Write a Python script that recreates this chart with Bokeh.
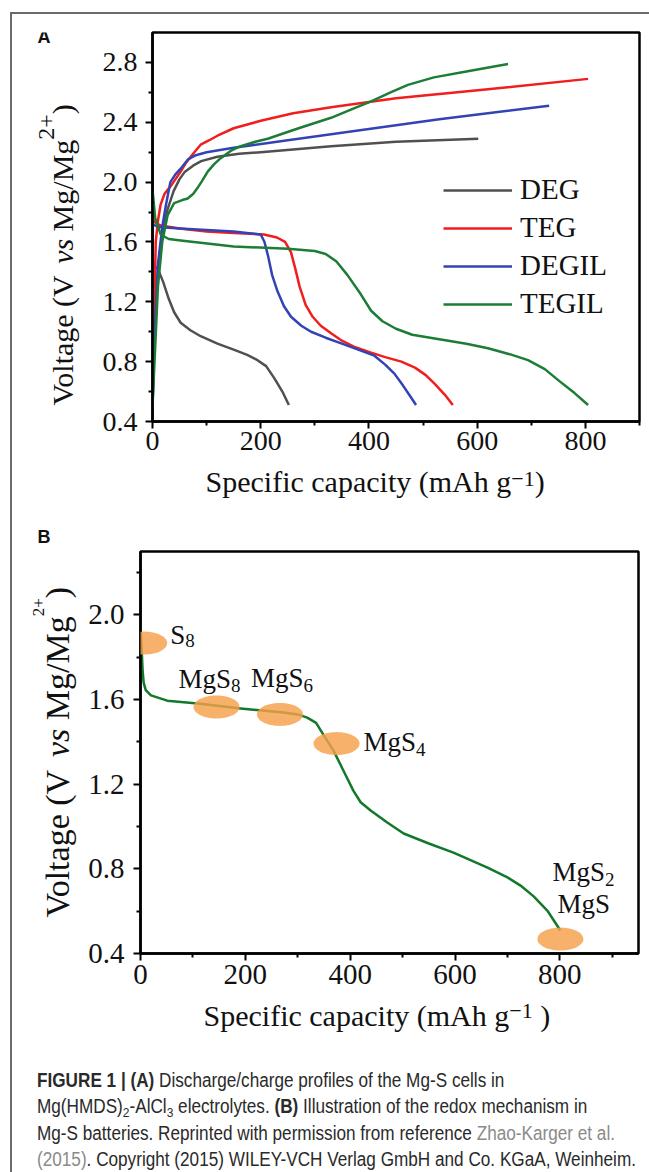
import math
from bokeh.plotting import figure
from bokeh.models import (Range1d, FixedTicker, NumeralTickFormatter, Label, Legend,
                          LegendItem, Div, PolyAnnotation)
from bokeh.layouts import column, row
from bokeh.embed import file_html
from bokeh.resources import INLINE

# ---------------- Panel A data (specific capacity mAh/g, voltage V) ----------------
deg_charge_cap = [0, 4, 10, 18, 28, 39, 50, 60, 75, 90, 120, 160, 200, 330, 450, 602]
deg_charge_v = [0.50, 1.00, 1.40, 1.65, 1.82, 1.94, 2.02, 2.07, 2.11, 2.14, 2.17, 2.19, 2.20, 2.24, 2.27, 2.29]
deg_dis_cap = [0, 10, 20, 30, 40, 52, 70, 89, 120, 150, 175, 194, 210, 225, 240, 252]
deg_dis_v = [1.45, 1.42, 1.33, 1.22, 1.13, 1.06, 1.01, 0.97, 0.92, 0.88, 0.845, 0.81, 0.77, 0.69, 0.60, 0.51]

teg_charge_cap = [0, 3, 6, 10, 15, 22, 35, 52, 62, 75, 89, 105, 120, 150, 200, 260, 330, 450, 620, 805]
teg_charge_v = [0.50, 1.10, 1.60, 1.74, 1.85, 1.92, 1.98, 2.07, 2.13, 2.19, 2.25, 2.28, 2.31, 2.36, 2.41, 2.46, 2.50, 2.56, 2.62, 2.69]
teg_dis_cap = [0, 5, 15, 50, 100, 150, 206, 230, 245, 256, 264, 272, 283, 296, 311, 330, 350, 372, 404, 430, 460, 485, 505, 522, 540, 555]
teg_dis_v = [1.76, 1.73, 1.71, 1.69, 1.67, 1.66, 1.65, 1.63, 1.60, 1.53, 1.42, 1.30, 1.18, 1.10, 1.04, 0.99, 0.94, 0.90, 0.86, 0.83, 0.80, 0.76, 0.71, 0.65, 0.58, 0.51]

degil_charge_cap = [0, 4, 10, 18, 25, 33, 42, 52, 65, 80, 100, 150, 250, 330, 530, 733]
degil_charge_v = [0.50, 1.00, 1.45, 1.70, 1.85, 2.00, 2.05, 2.09, 2.15, 2.18, 2.20, 2.23, 2.28, 2.32, 2.42, 2.51]
degil_dis_cap = [0, 10, 50, 100, 150, 200, 207, 214, 221, 231, 243, 256, 275, 293, 320, 350, 380, 410, 430, 447, 463, 476, 487]
degil_dis_v = [1.72, 1.70, 1.69, 1.68, 1.67, 1.65, 1.60, 1.50, 1.38, 1.27, 1.17, 1.10, 1.04, 1.00, 0.96, 0.92, 0.88, 0.84, 0.78, 0.72, 0.64, 0.57, 0.51]

tegil_charge_cap = [0, 5, 10, 18, 28, 40, 55, 65, 75, 83, 92, 102, 114, 126, 145, 163, 190, 213, 270, 330, 370, 404, 440, 472, 520, 580, 657]
tegil_charge_v = [0.50, 0.90, 1.30, 1.60, 1.78, 1.86, 1.88, 1.89, 1.92, 1.96, 2.01, 2.07, 2.12, 2.16, 2.21, 2.24, 2.27, 2.29, 2.36, 2.43, 2.49, 2.54, 2.60, 2.65, 2.70, 2.74, 2.79]
tegil_dis_cap = [0, 5, 15, 30, 52, 150, 250, 300, 320, 340, 360, 385, 404, 425, 450, 480, 530, 580, 620, 660, 694, 725, 752, 780, 805]
tegil_dis_v = [1.95, 1.76, 1.65, 1.62, 1.61, 1.57, 1.555, 1.54, 1.52, 1.47, 1.38, 1.25, 1.14, 1.07, 1.02, 0.98, 0.95, 0.92, 0.89, 0.85, 0.81, 0.75, 0.67, 0.59, 0.51]

series_names = ["DEG", "TEG", "DEGIL", "TEGIL"]
series_colors = ["#505050", "#f01e1e", "#3343b5", "#1c7d36"]

# ---------------- Panel B data ----------------
b_cap = [0, 2, 4, 6, 10, 20, 51, 114, 191, 273, 300, 318, 335, 350, 368, 387, 406, 420, 439, 470, 502, 550, 597, 662, 700, 725, 750, 776, 801]
b_v = [1.94, 1.85, 1.74, 1.68, 1.645, 1.62, 1.595, 1.58, 1.558, 1.539, 1.53, 1.515, 1.49, 1.43, 1.36, 1.265, 1.17, 1.115, 1.076, 1.02, 0.967, 0.92, 0.877, 0.806, 0.76, 0.721, 0.67, 0.603, 0.509]
stage_names = ["S8", "MgS8", "MgS6", "MgS4", "MgS2/MgS"]
stage_cap = [7, 145, 266, 374, 801]
stage_v = [1.867, 1.565, 1.53, 1.392, 0.468]

x_major = [0, 200, 400, 600, 800]
x_minor = [100, 300, 500, 700, 900]
ya_major = [0.4, 0.8, 1.2, 1.6, 2.0, 2.4, 2.8]
ya_minor = [0.6, 1.0, 1.4, 1.8, 2.2, 2.6]
yb_major = [0.4, 0.8, 1.2, 1.6, 2.0]
yb_minor = [0.6, 1.0, 1.4, 1.8, 2.2]

SERIF = "Liberation Serif"
BASE_FIX = 0.3375   # Bokeh draws "alphabetic" labels this many em below the anchor

# ---- Times / Liberation Serif advance widths (1/1000 em) for composing rich labels ----
W_REG = {' ': 250, '(': 333, ')': 333, '/': 278, '.': 250, '+': 564, '\u2212': 564, '-': 333,
         'A': 722, 'D': 722, 'E': 611, 'G': 722, 'I': 333, 'L': 611, 'M': 889, 'S': 556,
         'T': 611, 'V': 722, 'a': 444, 'c': 444, 'e': 444, 'f': 333, 'g': 500, 'h': 500,
         'i': 278, 'l': 278, 'm': 778, 'o': 500, 'p': 500, 's': 389, 't': 278, 'v': 500, 'y': 500}
for d in "0123456789":
    W_REG[d] = 500
W_ITA = {'v': 444, 's': 389}


def text_w(s, size, style="normal"):
    tab = W_ITA if style == "italic" else {}
    return sum(tab.get(c, W_REG.get(c, 500)) for c in s) * size / 1000.0


def ident(px, py):
    return px, py


def rich(p, to_data, x0, y0, parts, angle=0.0, font=SERIF, color="#111111"):
    pos = 0.0
    for txt, size, style, shift in parts:
        lead = len(txt) - len(txt.lstrip(' '))
        body = txt.strip(' ')
        off = pos + text_w(' ' * lead, size, style)
        up = shift + BASE_FIX * size
        if body:
            if angle == 0:
                px, py = x0 + off, y0 - up
            else:
                px, py = x0 - up, y0 - off
            dx, dy = to_data(px, py)
            p.add_layout(Label(x=dx, y=dy, text=body, angle=angle, text_font=font,
                               text_font_size=f"{size}px", text_font_style=style,
                               text_align="left", text_baseline="alphabetic",
                               text_color=color))
        pos += text_w(txt, size, style)


def tag(p, x, y, text):
    p.add_layout(Label(x=x, y=y - 0.3465 * 18, text=text, text_font="Liberation Sans",
                       text_font_style="bold", text_font_size="18px", text_baseline="alphabetic",
                       text_align="left", text_color="#111111"))


def strip(x0, x1, cy0, cy1, fy0=None, fy1=None, top=0, bottom=0):
    """Blank figure covering page x0..x1, y cy0..cy1; its frame (page fy0..fy1) uses page pixels as data."""
    fy0 = cy0 if fy0 is None else fy0
    fy1 = cy1 if fy1 is None else fy1
    s = figure(width=x1 - x0, height=cy1 - cy0, x_range=Range1d(x0, x1), y_range=Range1d(fy1, fy0),
               min_border_left=0, min_border_right=0, min_border_top=top, min_border_bottom=bottom,
               x_axis_type=None, y_axis_type=None, title=None,
               output_backend="svg", toolbar_location=None)
    s.outline_line_color = None
    s.xgrid.visible = False
    s.ygrid.visible = False
    s.background_fill_color = "white"
    s.border_fill_color = "white"
    return s


def style_axes(p, tick_px, xs_off, ys_off):
    for ax in (p.xaxis[0], p.yaxis[0]):
        ax.axis_line_width = 2.5
        ax.axis_line_color = "black"
        ax.major_tick_line_width = 2
        ax.minor_tick_line_width = 2
        ax.major_tick_in = 0
        ax.major_tick_out = 7
        ax.minor_tick_in = 0
        ax.minor_tick_out = 4
        ax.major_label_text_font = SERIF
        ax.major_label_text_font_size = f"{tick_px}px"
        ax.major_label_text_color = "#111111"
    p.xaxis[0].major_label_standoff = xs_off
    p.yaxis[0].major_label_standoff = ys_off
    p.xaxis[0].formatter = NumeralTickFormatter(format="0")
    p.yaxis[0].formatter = NumeralTickFormatter(format="0.0")
    p.xgrid.visible = False
    p.ygrid.visible = False
    p.outline_line_color = "black"
    p.outline_line_width = 2.5
    p.outline_line_alpha = 1
    p.background_fill_color = "white"
    p.border_fill_color = "white"


# ================= Panel A =================
# main plot occupies page x 92..649, y 14..463 ; frame x 152..639, y 32..421
pA = figure(width=557, height=449, x_range=Range1d(0, 900), y_range=Range1d(0.4, 3.0),
            min_border_left=60, min_border_right=10, min_border_top=18, min_border_bottom=42,
            title=None, output_backend="svg", toolbar_location=None)
pA.xaxis.ticker = FixedTicker(ticks=x_major, minor_ticks=x_minor)
pA.yaxis.ticker = FixedTicker(ticks=ya_major, minor_ticks=ya_minor)
style_axes(pA, 28, 3, 8)

charges = [(deg_charge_cap, deg_charge_v), (teg_charge_cap, teg_charge_v),
           (degil_charge_cap, degil_charge_v), (tegil_charge_cap, tegil_charge_v)]
discharges = [(deg_dis_cap, deg_dis_v), (teg_dis_cap, teg_dis_v),
              (degil_dis_cap, degil_dis_v), (tegil_dis_cap, tegil_dis_v)]
items = []
for name, col, (cx, cy), (dx, dy) in zip(series_names, series_colors, charges, discharges):
    r1 = pA.line(cx, cy, line_color=col, line_width=2.5, line_join="round")
    pA.line(dx, dy, line_color=col, line_width=2.5, line_join="round")
    items.append(LegendItem(label=name, renderers=[r1]))

legA = Legend(items=items, location=(291, 101), glyph_width=69, glyph_height=30,
              label_height=30, spacing=5, padding=0, margin=0, label_standoff=8,
              label_text_font=SERIF, label_text_font_size="29px", label_text_color="#111111",
              border_line_color=None, background_fill_alpha=0)
pA.add_layout(legA)

leftA = strip(12, 92, 14, 463, 32, 421, top=18, bottom=42)
rich(leftA, ident, 72, 405, [("Voltage (V ", 30, "normal", 0), ("vs", 30, "italic", 0),
                             (" Mg/Mg", 30, "normal", 0), ("2+", 24, "normal", 18),
                             (")", 30, "normal", 0)], angle=math.pi / 2)
tag(leftA, 37, 43, "A")

# strip between panels: x-label of A and the "B" tag (page y 463..548)
midAB = strip(12, 649, 463, 548)
rich(midAB, ident, 205, 491, [("Specific capacity (mAh g", 30, "normal", 0),
                              ("\u22121", 22, "normal", 5), (")", 30, "normal", 0)])
tag(midAB, 37, 543, "B")

# ================= Panel B =================
# main plot occupies page x 80..649, y 548..996 ; frame x 140..638, y 551..953
pB = figure(width=569, height=448, x_range=Range1d(0, 950), y_range=Range1d(0.4, 2.3),
            min_border_left=60, min_border_right=11, min_border_top=3, min_border_bottom=43,
            title=None, output_backend="svg", toolbar_location=None)
pB.xaxis.ticker = FixedTicker(ticks=x_major, minor_ticks=x_minor)
pB.yaxis.ticker = FixedTicker(ticks=yb_major, minor_ticks=yb_minor)
style_axes(pB, 29, 4, 9)


def b_data(px, py):
    return (px - 140) / 498.0 * 950.0, 0.4 + (953 - py) / 402.0 * 1.9


def b_page(x, y):
    return 140 + x / 950.0 * 498.0, 953 - (y - 0.4) / 1.9 * 402.0


pB.line(b_cap, b_v, line_color="#12792a", line_width=2.5, line_join="round")

for cx, cy in zip(stage_cap, stage_v):
    pcx, pcy = b_page(cx, cy)
    xs, ys = [], []
    for k in range(60):
        t = 2 * math.pi * k / 60
        ex, ey = b_data(pcx + 23 * math.cos(t), pcy + 11.5 * math.sin(t))
        xs.append(ex)
        ys.append(ey)
    pB.add_layout(PolyAnnotation(xs=xs, ys=ys, fill_color="#f5a04a", fill_alpha=0.82,
                                 line_color=None))

stage_label_parts = [
    [((26, 1), [("S", 27, "normal", 0), ("8", 19, "normal", -3)])],
    [((-38, -19), [("MgS", 27, "normal", 0), ("8", 19, "normal", -4)])],
    [((-29, -27), [("MgS", 27, "normal", 0), ("6", 19, "normal", -4)])],
    [((27, 7), [("MgS", 27, "normal", 0), ("4", 19, "normal", -5)])],
    [((-8, -58), [("MgS", 27, "normal", 0), ("2", 19, "normal", -5)]),
     ((-3, -26), [("MgS", 27, "normal", 0)])],
]
for (cx, cy), labs in zip(zip(stage_cap, stage_v), stage_label_parts):
    pcx, pcy = b_page(cx, cy)
    for (ox, oy), parts in labs:
        rich(pB, b_data, pcx + ox, pcy + oy, parts)

leftB = strip(12, 80, 548, 996, 551, 953, top=3, bottom=43)
rich(leftB, ident, 68, 917, [("Voltage (V ", 34, "normal", 0), ("vs", 34, "italic", 0),
                             (" Mg/Mg", 34, "normal", 0), ("2+", 17, "normal", 24),
                             (")", 34, "normal", 0)], angle=math.pi / 2)

bottomB = strip(12, 649, 996, 1040)
rich(bottomB, ident, 203, 1025, [("Specific capacity (mAh g", 30, "normal", 0),
                                 ("\u22121", 22, "normal", 7), (" )", 30, "normal", 0)])

# ================= Caption =================
gray = "color:#8a8a8a"
sub = "font-size:70%;vertical-align:-0.3em;line-height:0"
caption_html = (
    '<div style="padding:27px 0 0 25px;">'
    '<div style="font-family:\'Liberation Sans\',Arial,sans-serif;font-size:19.5px;'
    'line-height:26.4px;color:#2a2a2a;white-space:nowrap;transform:scaleX(0.88);'
    'transform-origin:0 0;">'
    '<b>FIGURE 1 | (A)</b> Discharge/charge profiles of the Mg-S cells in<br>'
    f'Mg(HMDS)<span style="{sub}">2</span>-AlCl<span style="{sub}">3</span> electrolytes. '
    '<b>(B)</b> Illustration of the redox mechanism in<br>'
    f'Mg-S batteries. Reprinted with permission from reference <span style="{gray}">Zhao-Karger et al.</span><br>'
    f'<span style="{gray}">(2015)</span>. Copyright (2015) WILEY-VCH Verlag GmbH and Co. KGaA, Weinheim.'
    '</div></div>'
)
cap = Div(text=caption_html, width=637, height=132, margin=0)

layout = column(row(leftA, pA), midAB, row(leftB, pB), bottomB, cap, margin=(12, 0, 0, 10),
                styles={"border-top": "2px solid #6a6a6a", "border-left": "2px solid #6a6a6a"})

open("out.html", "w").write(file_html(layout, INLINE))
